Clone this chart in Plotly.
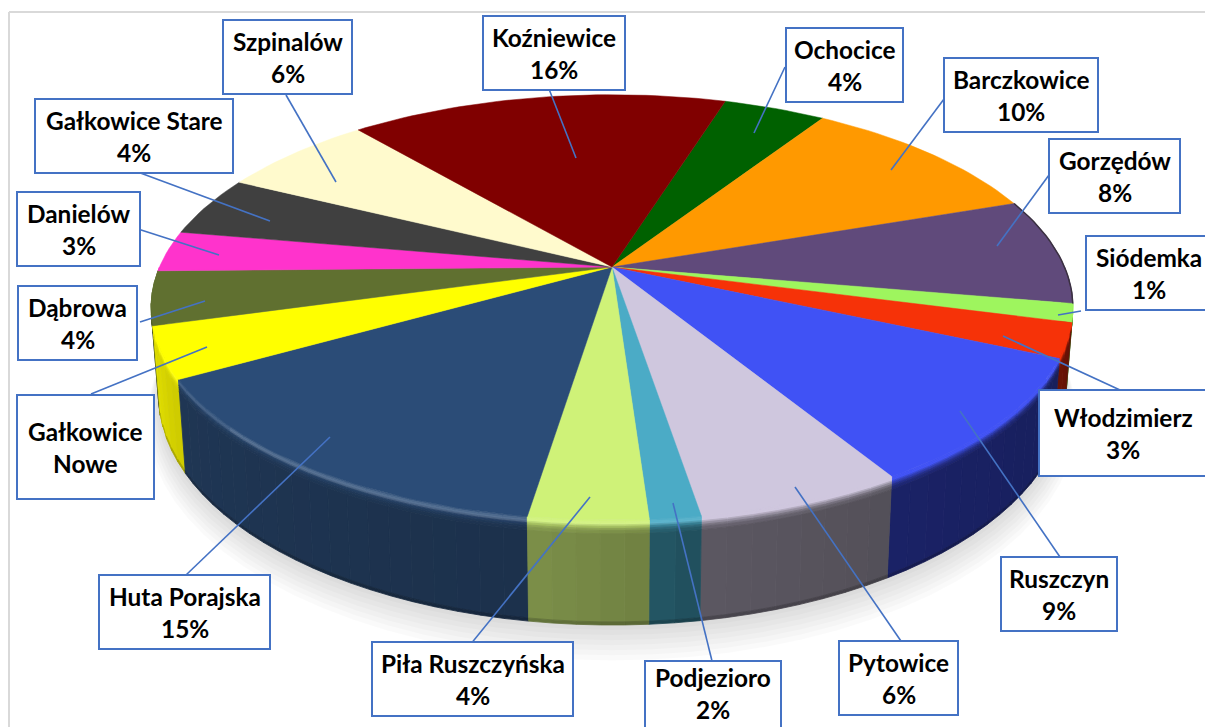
import math
import plotly.graph_objects as go

# ---------- data (clockwise, starting from the top of the pie) ----------
names = ["Ochocice", "Barczkowice", "Gorzędów", "Siódemka", "Włodzimierz", "Ruszczyn",
         "Pytowice", "Podjezioro", "Piła Ruszczyńska", "Huta Porajska", "Gałkowice Nowe",
         "Dąbrowa", "Danielów", "Gałkowice Stare", "Szpinalów", "Koźniewice"]
values = [4.3, 10.6, 8.1, 1.4, 2.6, 9.6, 6.1, 1.5, 3.5, 14.3, 3.9, 4.1, 3.1, 4.6, 6.5, 15.9]
pct_labels = ["4%", "10%", "8%", "1%", "3%", "9%", "6%", "2%", "4%", "15%", "", "4%", "3%", "4%", "6%", "16%"]
first_slice_start_deg = 17.2

# ---------- styles ----------
top_colors = ["#006100", "#FF9900", "#604A7B", "#9EF55E", "#F63208", "#4052F5", "#CFC7DE", "#4BABC6",
              "#CFF278", "#2B4C77", "#FFFF00", "#607030", "#FF33CC", "#404040", "#FFFACD", "#800000"]
side_colors = ["#003a00", "#995c00", "#3a2c4a", "#4F7A2F", "#6B1305", "#1A2266", "#5C5862", "#245766",
               "#7C8F49", "#1F3654", "#E3E000", "#4a5725", "#99207a", "#262626", "#99967b", "#4d0000"]
LINE = "#4472C4"

# ---------- projection of the pie disc ----------
CX, CY, A, B, K, DEPTH, INSET = 612, 267, 452.5, 205, 0.19, 85, 0.016


def project(deg, z=0.0, r=1.0):
    t = math.radians(deg)
    u, v = r * math.sin(t), -r * math.cos(t)
    w = 1 - K * v
    scale = 1 - INSET * z
    return CX + A * u / w * scale, CY + B * v / w + DEPTH * z / w


def mix(c1, c2, f):
    a = [int(c1[i:i + 2], 16) for i in (1, 3, 5)]
    b = [int(c2[i:i + 2], 16) for i in (1, 3, 5)]
    return "#%02x%02x%02x" % tuple(round(p + (q - p) * f) for p, q in zip(a, b))


def poly(fig, pts, color, lw=1.0):
    xs, ys = zip(*pts)
    fig.add_trace(go.Scatter(x=list(xs) + [xs[0]], y=list(ys) + [ys[0]], mode="lines", fill="toself",
                             fillcolor=color, line=dict(color=color, width=lw), hoverinfo="skip"))


total = sum(values)
bounds = [first_slice_start_deg]
for val in values:
    bounds.append(bounds[-1] + val / total * 360)

fig = go.Figure()

# soft shadow under the pie
for i in range(8):
    rr = 1.0 + 0.004 * i
    z = 1.0 + 0.035 * i
    pts = [project(d, z=z, r=rr) for d in range(0, 360, 4)]
    xs, ys = zip(*pts)
    fig.add_trace(go.Scatter(x=list(xs) + [xs[0]], y=list(ys) + [ys[0]], mode="lines", fill="toself",
                             fillcolor="rgba(0,0,0,0.02)", line=dict(width=0), hoverinfo="skip"))

# side walls with bevel band, drawn from the outer edges towards the front
Z_LEVELS = [0, 0.015, 0.03, 0.045, 0.06, 0.08, 0.10, 0.13, 0.97, 1.0]


def highlight(a):
    if a < 172:
        return 0.0
    if a < 190:
        return 0.10
    if a < 228:
        return 0.20
    if a < 240:
        return 0.12
    return 0.05


strips = []
for i in range(len(values)):
    a0, a1 = bounds[i] % 360, bounds[i + 1] % 360
    if a1 < a0:
        a1 += 360
    lo, hi = max(a0, 90), min(a1, 270)
    if lo >= hi:
        continue
    n = max(1, int((hi - lo) / 2.5))
    for j in range(n):
        d0 = lo + (hi - lo) * j / n
        d1 = lo + (hi - lo) * (j + 1) / n
        strips.append((abs((d0 + d1) / 2 - 180), i, j, n, d0, d1))

for _, i, j, n, d0, d1 in sorted(strips, key=lambda s: -s[0]):
    frac = 1 - (j + 0.5) / n
    side = mix(side_colors[i], "#000000", 0.10 * frac)
    h = highlight((d0 + d1) / 2)
    top = top_colors[i]
    band = [mix(top, "#ffffff", h * 0.4), mix(top, "#ffffff", h * 0.8), mix(top, "#ffffff", h),
            mix(mix(top, "#ffffff", h), side, 0.25), mix(top, side, 0.5), mix(top, side, 0.75),
            mix(top, side, 0.9), side, mix(side, "#000000", 0.2)]
    for k in range(len(Z_LEVELS) - 1):
        z0, z1 = Z_LEVELS[k], Z_LEVELS[k + 1]
        poly(fig, [project(d0, z0), project(d1, z0), project(d1, z1), project(d0, z1)], band[k], 0.8)

# top face
for i in range(len(values)):
    a0, a1 = bounds[i], bounds[i + 1]
    n = max(2, int((a1 - a0) / 1.5))
    pts = [(CX, CY)] + [project(a0 + (a1 - a0) * j / n) for j in range(n + 1)]
    poly(fig, pts, top_colors[i], 0.5)

# dark rim at the far right of the back edge
g = names.index("Gorzędów")
rim = [project(bounds[g] + (bounds[g + 1] - bounds[g]) * j / 20) for j in range(21)]
fig.add_trace(go.Scatter(x=[p[0] for p in rim], y=[p[1] for p in rim], mode="lines",
                         line=dict(color="#3a3040", width=1.5), hoverinfo="skip"))

# ---------- callouts: box x0, y0, x1, y1, then leader x0, y0, x1, y1 ----------
callouts = {
    "Szpinalów": (223, 20, 352, 94, 286, 95, 336, 182),
    "Koźniewice": (483, 16, 625, 90, 549, 89, 576, 158),
    "Ochocice": (786, 28, 903, 102, 785, 67, 754, 133),
    "Barczkowice": (944, 58, 1098, 132, 947, 95, 891, 170),
    "Gorzędów": (1049, 139, 1180, 213, 1049, 175, 997, 246),
    "Siódemka": (1086, 236, 1211, 310, 1081, 311, 1058, 315),
    "Włodzimierz": (1039, 390, 1207, 476, 1120, 390, 1003, 336),
    "Ruszczyn": (1001, 557, 1117, 631, 1060, 557, 960, 411),
    "Pytowice": (839, 641, 958, 715, 903, 644, 795, 487),
    "Podjezioro": (645, 661, 781, 737, 713, 665, 673, 503),
    "Piła Ruszczyńska": (372, 642, 573, 716, 470, 645, 590, 497),
    "Huta Porajska": (99, 575, 270, 649, 186, 575, 330, 437),
    "Gałkowice Nowe": (17, 395, 154, 499, 91, 394, 207, 347),
    "Dąbrowa": (18, 286, 137, 360, 140, 322, 205, 301),
    "Danielów": (17, 192, 140, 266, 138, 229, 219, 255),
    "Gałkowice Stare": (35, 99, 233, 173, 135, 171, 270, 221),
}

shapes = [
    dict(type="line", x0=9, y0=12, x1=1205, y1=12, line=dict(color="#d9d9d9", width=2), layer="below"),
    dict(type="line", x0=9, y0=12, x1=9, y1=727, line=dict(color="#d9d9d9", width=2), layer="below"),
]
annotations = []
FONT = dict(family="Lato, Carlito, sans-serif", size=24.4, color="#000000")


def add_text(x, y, txt):
    annotations.append(dict(x=x, y=y, text="<b>%s</b>" % txt, showarrow=False, xref="x", yref="y",
                            xanchor="center", yanchor="middle", font=FONT))


for i, name in enumerate(names):
    bx0, by0, bx1, by1, lx0, ly0, lx1, ly1 = callouts[name]
    shapes.append(dict(type="line", x0=lx0, y0=ly0, x1=lx1, y1=ly1, line=dict(color=LINE, width=1.6)))
    shapes.append(dict(type="rect", x0=bx0, y0=by0, x1=bx1, y1=by1, fillcolor="white",
                       line=dict(color=LINE, width=2)))
    mx, my = (bx0 + bx1) / 2, (by0 + by1) / 2
    if name == "Gałkowice Nowe":
        add_text(mx, my - 15.5, "Gałkowice")
        add_text(mx, my + 16.5, "Nowe")
    elif name == "Podjezioro":
        add_text(mx, 677, name)
        add_text(mx, 709, pct_labels[i])
    else:
        add_text(mx, my - 15.5, name)
        add_text(mx, my + 16.5, pct_labels[i])

fig.update_layout(
    width=1205, height=727, margin=dict(l=0, r=0, t=0, b=0), showlegend=False,
    paper_bgcolor="white", plot_bgcolor="white", shapes=shapes, annotations=annotations,
    xaxis=dict(range=[0, 1205], visible=False, fixedrange=True),
    yaxis=dict(range=[727, 0], visible=False, fixedrange=True),
)
fig.write_html("out.html", config={"displayModeBar": False},
               post_script="document.body.style.margin='0';document.body.style.overflow='hidden';")
